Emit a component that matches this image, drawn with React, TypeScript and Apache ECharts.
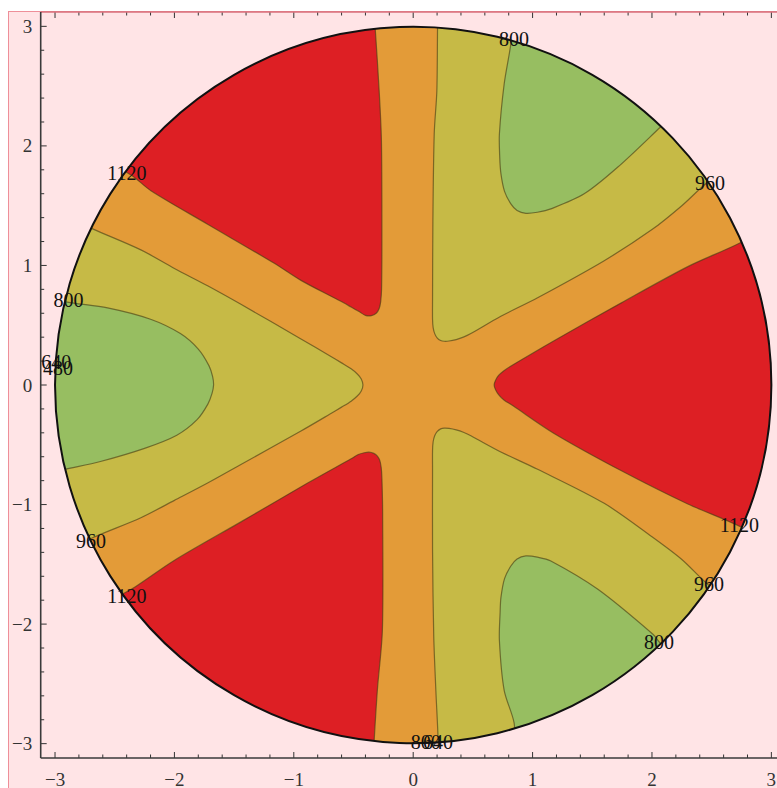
import React, { useEffect, useRef } from "react";
import * as echarts from "echarts";

type P = [number, number];

// ---- axes ----
const xMin = -3.12;
const xMax = 3.12;
const yMin = -3.12;
const yMax = 3.12;
const diskRadius = 3;
const xTickValues = [-3, -2, -1, 0, 1, 2, 3];
const yTickValues = [-3, -2, -1, 0, 1, 2, 3];
const xTickLabels = ["−3", "−2", "−1", "0", "1", "2", "3"];
const yTickLabels = ["−3", "−2", "−1", "0", "1", "2", "3"];
const minorDivisions = 5;

// ---- contour levels: <800 green, 800–960 yellow, 960–1120 orange, >1120 red ----
const levels = [800, 960, 1120];

// regions above 1120 (red)
const red1: P[] = [
  [3.3, 1.5], [2.74, 1.19], [2.3, 0.99], [1.74, 0.685], [1.18, 0.37], [0.83, 0.165],
  [0.76, 0.12], [0.715, 0.08], [0.69, 0.04], [0.678, 0.0], [0.69, -0.04], [0.715, -0.08],
  [0.76, -0.125], [0.83, -0.17], [1.18, -0.405], [1.74, -0.715], [2.3, -0.995],
  [2.75, -1.19], [3.3, -1.5],
];
const red2: P[] = [
  [-0.33, 3.4], [-0.325, 3.05], [-0.318, 2.98], [-0.285, 2.46], [-0.266, 2.04],
  [-0.262, 1.21], [-0.265, 0.8], [-0.272, 0.7], [-0.285, 0.64], [-0.31, 0.6],
  [-0.35, 0.58], [-0.4, 0.582], [-0.45, 0.612], [-0.52, 0.652], [-0.606, 0.7],
  [-0.94, 0.875], [-1.167, 1.02], [-1.722, 1.345], [-2.197, 1.625], [-2.36, 1.755],
  [-2.9, 2.08], [-3.3, 3.3],
];
const red3: P[] = [
  [-0.33, -3.4], [-0.33, -3.05], [-0.327, -2.975], [-0.3, -2.55], [-0.258, -2.05],
  [-0.256, -1.07], [-0.262, -0.78], [-0.268, -0.69], [-0.28, -0.63], [-0.3, -0.595],
  [-0.33, -0.572], [-0.37, -0.562], [-0.41, -0.567], [-0.46, -0.582], [-0.52, -0.617],
  [-0.884, -0.82], [-1.443, -1.145], [-2.002, -1.468], [-2.33, -1.69], [-2.9, -2.05],
  [-3.3, -3.3],
];

// regions 800–960 (yellow)
const yellow1: P[] = [
  [-3.1, 1.5], [-2.685, 1.306], [-2.281, 1.13], [-2.0, 0.975], [-1.722, 0.83],
  [-1.443, 0.675], [-0.94, 0.385], [-0.7, 0.245], [-0.6, 0.185], [-0.52, 0.135],
  [-0.466, 0.09], [-0.435, 0.05], [-0.421, 0.0], [-0.435, -0.05], [-0.466, -0.09],
  [-0.52, -0.135], [-0.6, -0.185], [-0.7, -0.245], [-0.94, -0.385], [-1.443, -0.665],
  [-1.722, -0.82], [-2.0, -0.965], [-2.281, -1.11], [-2.69, -1.28], [-3.1, -1.48],
];
const yellow2: P[] = [
  [0.21, 3.3], [0.204, 2.99], [0.198, 2.46], [0.176, 2.1], [0.165, 1.375],
  [0.162, 0.71], [0.162, 0.55], [0.167, 0.48], [0.18, 0.43], [0.2, 0.395],
  [0.23, 0.372], [0.26, 0.366], [0.3, 0.368], [0.36, 0.38], [0.42, 0.4],
  [0.483, 0.43], [0.734, 0.575], [1.042, 0.73], [1.6, 1.04], [2.0, 1.3],
  [2.25, 1.5], [2.466, 1.696], [2.9, 2.0], [2.6, 3.0], [1.0, 3.5],
];
const yellow3: P[] = [
  [0.21, -3.3], [0.209, -2.98], [0.19, -2.56], [0.172, -2.1], [0.162, -1.375],
  [0.162, -0.71], [0.162, -0.55], [0.167, -0.475], [0.18, -0.425], [0.2, -0.39],
  [0.23, -0.367], [0.26, -0.361], [0.3, -0.363], [0.36, -0.375], [0.42, -0.395],
  [0.483, -0.425], [0.734, -0.56], [1.042, -0.705], [1.6, -0.99], [2.0, -1.27],
  [2.25, -1.46], [2.47, -1.67], [2.9, -2.0], [2.6, -3.0], [1.0, -3.5],
];

// regions below 800 (green)
const green1: P[] = [
  [-3.3, 0.8], [-2.93, 0.7], [-2.56, 0.645], [-2.2, 0.55], [-1.95, 0.43],
  [-1.8, 0.3], [-1.71, 0.16], [-1.68, 0.07], [-1.672, 0.0], [-1.685, -0.07],
  [-1.72, -0.16], [-1.81, -0.29], [-1.98, -0.42], [-2.25, -0.53], [-2.62, -0.64],
  [-2.93, -0.71], [-3.3, -0.8],
];
const green2: P[] = [
  [0.87, 3.3], [0.818, 2.853], [0.762, 2.518], [0.722, 2.1], [0.725, 1.9],
  [0.735, 1.766], [0.765, 1.62], [0.818, 1.515], [0.87, 1.46], [0.944, 1.436],
  [1.04, 1.445], [1.153, 1.473], [1.432, 1.599], [1.712, 1.821], [2.069, 2.156],
  [2.45, 2.52],
];
const green3: P[] = [
  [0.89, -3.3], [0.846, -2.83], [0.762, -2.554], [0.722, -2.137], [0.728, -1.9],
  [0.735, -1.777], [0.765, -1.62], [0.818, -1.514], [0.87, -1.455], [0.944, -1.43],
  [1.04, -1.44], [1.153, -1.472], [1.547, -1.709], [2.008, -2.085], [2.07, -2.16],
  [2.45, -2.52],
];

// contour labels
const contourLabelValues = [800, 960, 1120, 800, 640, 480, 960, 1120, 1120, 960, 800, 800, 640];
const contourLabelAt: P[] = [
  [0.844, 2.893], [2.485, 1.689], [-2.398, 1.773], [-2.888, 0.711], [-2.99, 0.19],
  [-2.975, 0.14], [-2.699, -1.304], [-2.398, -1.764], [2.732, -1.171], [2.477, -1.668],
  [2.058, -2.149], [0.106, -2.99], [0.207, -2.99],
];

// ---- styles ----
const COLORS = {
  green: "#97be61",
  yellow: "#c6ba46",
  orange: "#e39b38",
  red: "#dd1f24",
  pink: "#ffe4e6",
};
const CONTOUR_LINE = "rgba(70,60,20,0.62)";
const SERIF = '"Liberation Serif", "DejaVu Serif", serif';

export default function App() {
  const ref = useRef<HTMLDivElement>(null);

  useEffect(() => {
    if (!ref.current) return;
    const chart = echarts.init(ref.current, undefined, { renderer: "svg" });

    const regionsRender = (_params: any, api: any) => {
      const c = api.coord([0, 0]);
      const r = api.coord([diskRadius, 0])[0] - c[0];
      const poly = (pts: P[], fill: string) => ({
        type: "polygon",
        shape: { points: pts.map((p) => api.coord(p)), smooth: 0.3 },
        style: { fill, stroke: CONTOUR_LINE, lineWidth: 1.2 },
      });
      return {
        type: "group",
        children: [
          { type: "circle", shape: { cx: c[0], cy: c[1], r }, style: { fill: COLORS.orange } },
          poly(yellow1, COLORS.yellow),
          poly(yellow2, COLORS.yellow),
          poly(yellow3, COLORS.yellow),
          poly(green1, COLORS.green),
          poly(green2, COLORS.green),
          poly(green3, COLORS.green),
          poly(red1, COLORS.red),
          poly(red2, COLORS.red),
          poly(red3, COLORS.red),
          {
            type: "ring",
            shape: { cx: c[0], cy: c[1], r: 800, r0: r },
            style: { fill: COLORS.pink },
          },
          {
            type: "circle",
            shape: { cx: c[0], cy: c[1], r },
            style: { fill: "none", stroke: "#111", lineWidth: 2 },
          },
        ],
      };
    };

    const frameRender = (_params: any, api: any) => {
      const L = api.coord([xMin, 0])[0];
      const R = api.coord([xMax, 0])[0];
      const T = api.coord([0, yMax])[1];
      const B = api.coord([0, yMin])[1];
      const children: any[] = [];
      const seg = (x1: number, y1: number, x2: number, y2: number, stroke: string, lw: number) =>
        children.push({ type: "line", shape: { x1, y1, x2, y2 }, style: { stroke, lineWidth: lw } });

      const tickColor = "#333";
      const major = 6;
      const minor = 3.5;

      for (let i = 0; i < xTickValues.length - 1; i++) {
        const step = (xTickValues[i + 1] - xTickValues[i]) / minorDivisions;
        for (let j = 1; j < minorDivisions; j++) {
          const v = xTickValues[i] + j * step;
          const X = api.coord([v, 0])[0];
          seg(X, B, X, B - minor, tickColor, 1);
          seg(X, T, X, T + minor, tickColor, 1);
        }
      }
      for (let i = 0; i < yTickValues.length - 1; i++) {
        const step = (yTickValues[i + 1] - yTickValues[i]) / minorDivisions;
        for (let j = 1; j < minorDivisions; j++) {
          const v = yTickValues[i] + j * step;
          const Y = api.coord([0, v])[1];
          seg(L, Y, L + minor, Y, tickColor, 1);
          seg(R, Y, R - minor, Y, tickColor, 1);
        }
      }
      xTickValues.forEach((v, i) => {
        const X = api.coord([v, 0])[0];
        seg(X, B, X, B - major, tickColor, 1);
        seg(X, T, X, T + major, tickColor, 1);
        children.push({
          type: "text",
          x: X,
          y: B + 21,
          style: {
            text: xTickLabels[i],
            fill: "#333",
            font: `19px ${SERIF}`,
            align: "center",
            verticalAlign: "middle",
          },
        });
      });
      yTickValues.forEach((v, i) => {
        const Y = api.coord([0, v])[1];
        seg(L, Y, L + major, Y, tickColor, 1);
        seg(R, Y, R - major, Y, tickColor, 1);
        children.push({
          type: "text",
          x: L - 8.5,
          y: Y,
          style: {
            text: yTickLabels[i],
            fill: "#333",
            font: `19px ${SERIF}`,
            align: "right",
            verticalAlign: "middle",
          },
        });
      });
      seg(L, T, R, T, "#d8707c", 1.5);
      seg(L, T, L, B, "#3a3a3a", 1.6);
      seg(L, B, R, B, "#3a3a3a", 1.6);
      seg(R, T, R, B, "#3a3a3a", 1.6);

      contourLabelValues.forEach((v, i) => {
        const p = api.coord(contourLabelAt[i]);
        children.push({
          type: "text",
          x: p[0],
          y: p[1],
          style: {
            text: String(v),
            fill: "#111",
            font: `20px ${SERIF}`,
            align: "center",
            verticalAlign: "middle",
          },
        });
      });
      return { type: "group", children };
    };

    chart.setOption({
      animation: false,
      backgroundColor: "transparent",
      grid: {
        left: 40.7,
        top: 12,
        width: 745,
        height: 746,
        containLabel: false,
        outerBoundsMode: "none",
      },
      xAxis: { type: "value", min: xMin, max: xMax, show: false },
      yAxis: { type: "value", min: yMin, max: yMax, show: false },
      series: [
        {
          type: "custom",
          name: `contours ${levels.join("/")}`,
          coordinateSystem: "cartesian2d",
          clip: true,
          silent: true,
          z: 2,
          data: [[0, 0]],
          renderItem: regionsRender,
        },
        {
          type: "custom",
          name: "frame",
          coordinateSystem: "cartesian2d",
          clip: false,
          silent: true,
          z: 5,
          data: [[0, 0]],
          renderItem: frameRender,
        },
      ],
    });

    return () => chart.dispose();
  }, []);

  return (
    <div
      style={{
        position: "absolute",
        left: 0,
        top: 0,
        width: 777,
        height: 788,
        background: "#fff",
        overflow: "hidden",
      }}
    >
      <div
        style={{
          position: "absolute",
          left: 8,
          top: 11,
          width: 769,
          height: 777,
          background: COLORS.pink,
          borderLeft: "1px solid #ee8f99",
          borderTop: "1px solid #ee8f99",
        }}
      />
      <div ref={ref} style={{ position: "absolute", left: 0, top: 0, width: 777, height: 788 }} />
    </div>
  );
}
